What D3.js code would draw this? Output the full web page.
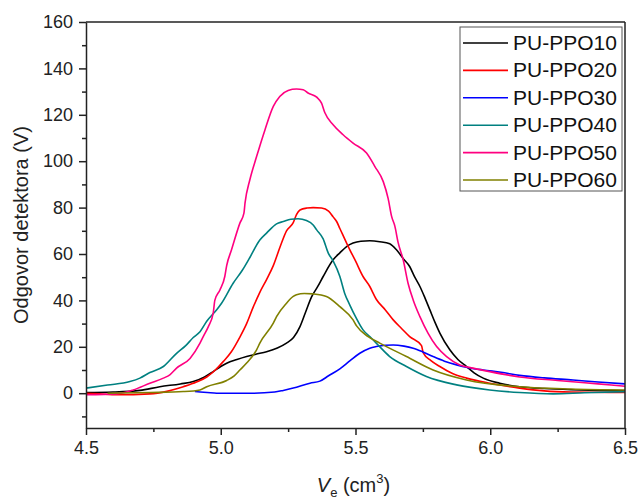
<!DOCTYPE html>
<html>
<head>
<meta charset="utf-8">
<script src="https://cdn.jsdelivr.net/npm/d3@7"></script>
<style>
  html, body { margin: 0; padding: 0; background: #fff; }
  svg { display: block; font-family: "Liberation Sans", Arial, sans-serif; }
</style>
</head>
<body>
<svg id="chart" width="639" height="501"></svg>
<script>
const seriesNames = ["PU-PPO10", "PU-PPO20", "PU-PPO30", "PU-PPO40", "PU-PPO50", "PU-PPO60"];
const seriesColors = ["#000000", "#ff0000", "#0000ff", "#008080", "#ff0080", "#808000"];

const ppo10 = [[4.5,0.3],[4.6,0.5],[4.7,1.2],[4.774,2.8],[4.85,4],[4.898,5],[4.94,7],[4.972,9.3],[5.0,11.5],[5.022,12.9],[5.06,14.5],[5.096,15.8],[5.13,16.8],[5.17,17.9],[5.21,19.5],[5.244,21.6],[5.27,24],[5.294,28.7],[5.315,35],[5.337,41.5],[5.36,46],[5.38,50.3],[5.417,57.5],[5.442,60.5],[5.467,63.2],[5.491,64.7],[5.52,65.5],[5.553,65.7],[5.59,65.3],[5.627,64.4],[5.652,61.8],[5.677,58],[5.701,54.6],[5.72,50],[5.739,46],[5.758,41],[5.776,35.9],[5.795,30.5],[5.813,25.9],[5.85,18.7],[5.88,14.5],[5.912,11.5],[5.94,8.8],[5.974,6.5],[6.035,4.3],[6.109,2.8],[6.2,2.0],[6.3,1.5],[6.4,1.2],[6.5,1.0]];
const ppo20 = [[4.5,0],[4.55,-0.3],[4.614,-0.7],[4.737,-0.3],[4.8,0.8],[4.861,2.8],[4.91,4.8],[4.948,7.0],[4.98,10],[5.009,13.6],[5.04,18],[5.07,24],[5.096,30],[5.12,37],[5.145,43.5],[5.17,49],[5.195,55],[5.22,63],[5.244,70],[5.269,73.5],[5.281,77],[5.294,79],[5.32,79.8],[5.343,80],[5.374,79.8],[5.4,78.5],[5.417,76],[5.43,74],[5.442,71],[5.467,64.7],[5.479,61.8],[5.5,57],[5.528,50.3],[5.553,46],[5.577,40.5],[5.61,36],[5.64,31.6],[5.67,28],[5.701,24.4],[5.745,20.5],[5.751,17.5],[5.78,14],[5.813,11.5],[5.86,8.5],[5.912,6.5],[5.998,4.3],[6.109,2.2],[6.2,1.0],[6.3,0.5],[6.5,0.3]];
const ppo30 = [[4.904,0.7],[4.95,0.3],[4.985,0],[5.046,0],[5.121,0],[5.2,0.5],[5.232,1.2],[5.269,2.2],[5.331,4.3],[5.368,5.2],[5.40,7.5],[5.442,10.5],[5.48,14],[5.516,17.2],[5.553,19.4],[5.577,20.1],[5.61,20.7],[5.64,20.8],[5.68,20.3],[5.714,19.4],[5.75,17.8],[5.788,15.8],[5.83,13.8],[5.875,12.2],[5.92,11],[5.974,10],[6.04,9],[6.109,7.7],[6.2,6.6],[6.307,5.7],[6.4,4.8],[6.5,4.0]];
const ppo40 = [[4.5,2.2],[4.58,3.5],[4.663,5],[4.7,6.5],[4.737,8.9],[4.787,11.5],[4.836,17.2],[4.87,20.5],[4.898,24],[4.923,26.5],[4.948,31],[4.985,36],[5.003,38.8],[5.046,47.4],[5.08,53],[5.108,58.5],[5.145,66],[5.17,69],[5.207,73],[5.232,74],[5.26,75],[5.287,75.2],[5.318,74.4],[5.343,72.5],[5.356,70.4],[5.38,66.5],[5.399,60.4],[5.417,57],[5.442,50.3],[5.46,43],[5.479,38],[5.5,33],[5.528,27.3],[5.553,24.4],[5.577,21.6],[5.627,15.8],[5.689,11.5],[5.763,7.2],[5.875,3.6],[5.998,1.4],[6.109,0.3],[6.233,-0.3],[6.35,0.2],[6.5,0.7]];
const ppo50 = [[4.5,-0.7],[4.614,-0.3],[4.675,1.4],[4.737,4.3],[4.787,6.5],[4.811,7.9],[4.836,10.8],[4.886,15],[4.923,21.6],[4.935,24.4],[4.954,28.7],[4.972,34.5],[4.978,40],[4.997,44.5],[5.015,50.3],[5.022,55],[5.04,61.8],[5.071,73.3],[5.086,77.6],[5.09,81.9],[5.108,92],[5.133,102],[5.164,113.5],[5.195,123.6],[5.219,127.9],[5.25,130.5],[5.281,131.1],[5.306,130.8],[5.324,129.4],[5.356,127.6],[5.374,125],[5.386,121],[5.417,115.7],[5.454,111.4],[5.491,107.8],[5.541,103.5],[5.572,97.7],[5.603,91.2],[5.621,84],[5.634,76.2],[5.646,72],[5.658,65],[5.677,57.5],[5.695,47.4],[5.714,40.2],[5.739,33],[5.769,25.9],[5.801,20.1],[5.838,15.8],[5.887,12.2],[5.936,10.8],[5.998,9.3],[6.109,7],[6.25,5.5],[6.4,4],[6.5,3.0]];
const ppo60 = [[4.58,0],[4.737,0.3],[4.861,0.7],[4.923,1.4],[4.948,2.8],[5.022,5.5],[5.05,7.5],[5.071,10],[5.096,13],[5.133,18.7],[5.145,21.6],[5.195,30.2],[5.207,33],[5.244,38.8],[5.269,41.7],[5.281,42.4],[5.31,43],[5.343,42.8],[5.392,41.7],[5.442,37.3],[5.491,31.6],[5.504,29],[5.547,24.4],[5.59,21.6],[5.689,15.8],[5.788,10],[5.912,5.7],[6.109,2.8],[6.3,1.8],[6.5,1.4]];

const seriesData = [ppo10, ppo20, ppo30, ppo40, ppo50, ppo60];

const xMajorTicks = [4.5, 5.0, 5.5, 6.0, 6.5];
const xMinorTicks = [4.75, 5.25, 5.75, 6.25];
const yMajorTicks = [0, 20, 40, 60, 80, 100, 120, 140, 160];
const yMinorTicks = [-10, 10, 30, 50, 70, 90, 110, 130, 150];

(function () {
const svg = d3.select("#chart");
const pL = 86, pR = 625, pT = 22, pB = 428;

const x = d3.scaleLinear().domain([4.5, 6.5]).range([pL, pR]);
const y = d3.scaleLinear().domain([-15, 160]).range([pB, pT]);

svg.append("defs").append("clipPath").attr("id", "clip")
  .append("rect").attr("x", pL).attr("y", pT).attr("width", pR - pL).attr("height", pB - pT);

const line = d3.line().x(d => x(d[0])).y(d => y(d[1])).curve(d3.curveMonotoneX);
const g = svg.append("g").attr("clip-path", "url(#clip)");
seriesData.forEach((s, i) => {
  g.append("path").attr("d", line(s)).attr("fill", "none")
    .attr("stroke", seriesColors[i]).attr("stroke-width", 1.6).attr("stroke-linejoin", "round");
});

const axisColor = "#222";
svg.append("g").attr("transform", `translate(0,${pB})`)
  .call(d3.axisBottom(x).tickValues(xMajorTicks).tickFormat(d3.format(".1f")).tickSizeInner(7).tickSizeOuter(0).tickPadding(6));
svg.append("g").attr("transform", `translate(0,${pB})`)
  .call(d3.axisBottom(x).tickValues(xMinorTicks).tickFormat("").tickSizeInner(4).tickSizeOuter(0))
  .select(".domain").remove();
svg.append("g").attr("transform", `translate(${pL},0)`)
  .call(d3.axisLeft(y).tickValues(yMajorTicks).tickSizeInner(7).tickSizeOuter(0).tickPadding(6));
svg.append("g").attr("transform", `translate(${pL},0)`)
  .call(d3.axisLeft(y).tickValues(yMinorTicks).tickFormat("").tickSizeInner(4).tickSizeOuter(0))
  .select(".domain").remove();

svg.selectAll(".domain, .tick line").attr("stroke", axisColor).attr("stroke-width", 1.5);
svg.selectAll(".tick text").attr("fill", "#222").attr("font-size", 18)
  .attr("font-family", "'Liberation Sans', Arial, sans-serif");

svg.append("line").attr("x1", pL).attr("x2", pR).attr("y1", pT).attr("y2", pT)
  .attr("stroke", axisColor).attr("stroke-width", 1.5);
svg.append("line").attr("x1", pR).attr("x2", pR).attr("y1", pT).attr("y2", pB)
  .attr("stroke", axisColor).attr("stroke-width", 1.5);

svg.append("text").attr("transform", `translate(28,${(pT + pB) / 2}) rotate(-90)`)
  .attr("text-anchor", "middle").attr("font-size", 20).attr("fill", "#222")
  .text("Odgovor detektora (V)");

const xt = svg.append("text").attr("x", (pL + pR) / 2 - 2).attr("y", 492)
  .attr("text-anchor", "middle").attr("font-size", 20).attr("fill", "#222");
xt.append("tspan").attr("font-style", "italic").text("V");
xt.append("tspan").attr("font-size", 13).attr("dy", 5).text("e");
xt.append("tspan").attr("dy", -5).text(" (cm");
xt.append("tspan").attr("font-size", 13).attr("dy", -9).text("3");
xt.append("tspan").attr("dy", 9).text(")");

const lg = svg.append("g");
lg.append("rect").attr("x", 460).attr("y", 27).attr("width", 162).attr("height", 164)
  .attr("fill", "#fff").attr("stroke", "#555").attr("stroke-width", 1);
seriesNames.forEach((name, i) => {
  const cy = 43 + i * 27.4;
  lg.append("line").attr("x1", 463).attr("x2", 508).attr("y1", cy).attr("y2", cy)
    .attr("stroke", seriesColors[i]).attr("stroke-width", 1.6);
  lg.append("text").attr("x", 513).attr("y", cy + 7).attr("font-size", 21).attr("fill", "#111").text(name);
});
})();
</script>
</body>
</html>
